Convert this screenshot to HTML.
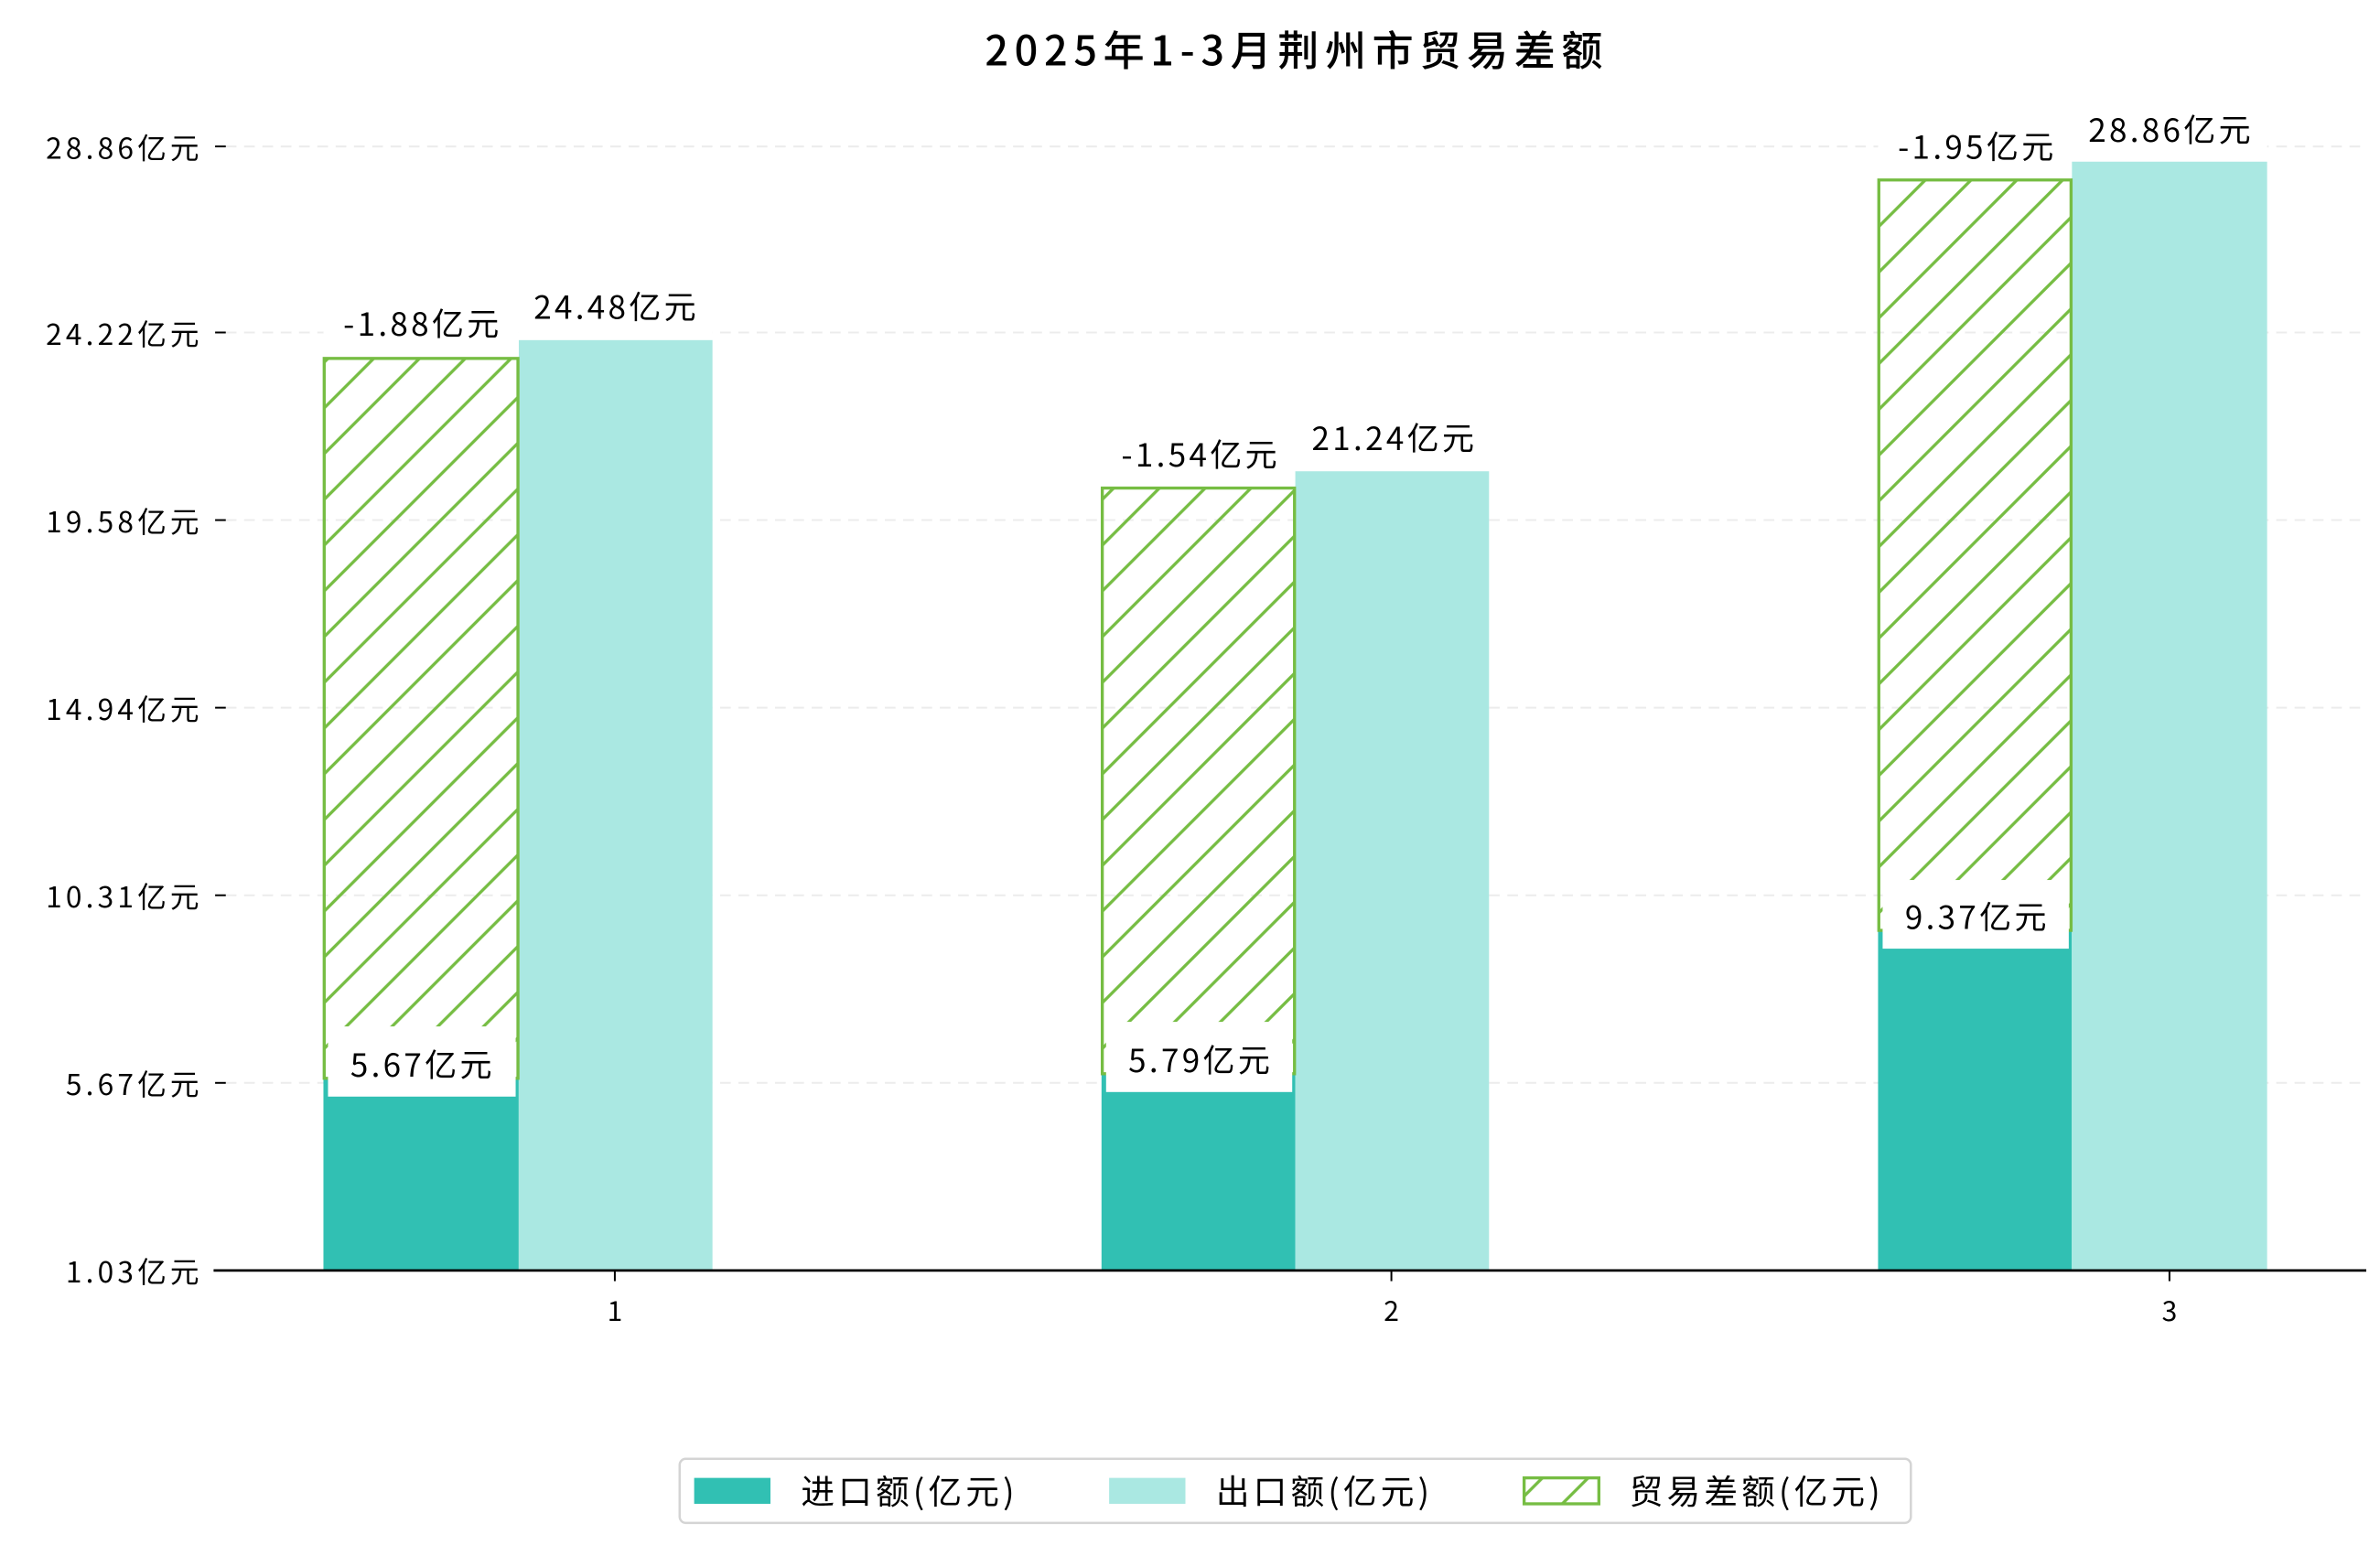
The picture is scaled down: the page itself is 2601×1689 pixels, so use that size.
<!DOCTYPE html>
<html><head><meta charset="utf-8"><style>
html,body{margin:0;padding:0;background:#fff;}
svg{display:block;}
svg text{font-family:"Noto Sans CJK SC","WenQuanYi Zen Hei",sans-serif;fill:#000;}
</style></head><body>
<svg width="2601" height="1689" viewBox="0 0 1560 1013" xmlns="http://www.w3.org/2000/svg">
<defs>
<pattern id="h" patternUnits="userSpaceOnUse" width="30" height="30">
<path d="M-3,33 L33,-3 M-3,3 L3,-3 M27,33 L33,27" stroke="#76bd43" stroke-width="2"/>
</pattern>
</defs>
<rect width="1560" height="1013" fill="#fff"/>
<text x="850" y="43" font-size="27" font-weight="500" letter-spacing="4" text-anchor="middle">2025年1-3月荆州市贸易差额</text>
<g stroke="#ececec" stroke-width="1.2" stroke-dasharray="7,5">
<line x1="148" y1="96" x2="1550" y2="96"/><line x1="148" y1="218" x2="1550" y2="218"/>
<line x1="148" y1="341" x2="1550" y2="341"/><line x1="148" y1="464" x2="1550" y2="464"/>
<line x1="148" y1="587" x2="1550" y2="587"/><line x1="148" y1="710" x2="1550" y2="710"/>
</g>
<g stroke="#000" stroke-width="1.2">
<line x1="141" y1="96" x2="148" y2="96"/><line x1="141" y1="218" x2="148" y2="218"/>
<line x1="141" y1="341" x2="148" y2="341"/><line x1="141" y1="464" x2="148" y2="464"/>
<line x1="141" y1="587" x2="148" y2="587"/><line x1="141" y1="710" x2="148" y2="710"/>
</g>
<g font-size="19" letter-spacing="2.5" text-anchor="end">
<text x="133" y="104">28.86亿元</text><text x="133" y="226">24.22亿元</text>
<text x="133" y="349">19.58亿元</text><text x="133" y="472">14.94亿元</text>
<text x="133" y="595">10.31亿元</text><text x="133" y="718">5.67亿元</text>
<text x="133" y="841">1.03亿元</text>
</g>
<g>
<rect x="212" y="707" width="128" height="126" fill="#31c0b3"/>
<rect x="340" y="223" width="127" height="610" fill="#aae8e2"/>
<rect x="212.5" y="235" width="127" height="472" fill="url(#h)" stroke="#76bd43" stroke-width="2"/>
<rect x="722" y="704" width="127" height="129" fill="#31c0b3"/>
<rect x="849" y="309" width="127" height="524" fill="#aae8e2"/>
<rect x="722.5" y="320" width="126" height="384" fill="url(#h)" stroke="#76bd43" stroke-width="2"/>
<rect x="1231" y="610" width="127" height="223" fill="#31c0b3"/>
<rect x="1358" y="106" width="128" height="727" fill="#aae8e2"/>
<rect x="1231.5" y="118" width="126" height="492" fill="url(#h)" stroke="#76bd43" stroke-width="2"/>
</g>
<g fill="#fff">
<rect x="215" y="673" width="123" height="46"/>
<rect x="725" y="670" width="122" height="46"/>
<rect x="1234" y="577" width="122" height="45"/>
<rect x="212" y="195" width="128" height="38"/>
<rect x="722" y="280" width="127" height="38"/>
<rect x="1231" y="78" width="127" height="38"/>
<rect x="340" y="184" width="127" height="37"/>
<rect x="849" y="270" width="127" height="37"/>
<rect x="1358" y="68" width="128" height="36"/>
</g>
<g font-size="21" letter-spacing="2" text-anchor="middle">
<text x="277" y="706">5.67亿元</text>
<text x="787" y="703">5.79亿元</text>
<text x="1296" y="609">9.37亿元</text>
<text x="277" y="220">-1.88亿元</text>
<text x="787" y="306">-1.54亿元</text>
<text x="1296" y="104">-1.95亿元</text>
<text x="404" y="209">24.48亿元</text>
<text x="914" y="295">21.24亿元</text>
<text x="1423" y="93">28.86亿元</text>
</g>
<line x1="140" y1="833" x2="1551" y2="833" stroke="#000" stroke-width="1.6"/>
<g stroke="#000" stroke-width="1.2">
<line x1="403" y1="833" x2="403" y2="840"/><line x1="912" y1="833" x2="912" y2="840"/><line x1="1422" y1="833" x2="1422" y2="840"/>
</g>
<g font-size="18" text-anchor="middle">
<text x="403" y="866">1</text><text x="912" y="866">2</text><text x="1422" y="866">3</text>
</g>
<rect x="445.5" y="956.5" width="807" height="42" rx="4" fill="#fff" stroke="#d4d4d4" stroke-width="1.5"/>
<rect x="455" y="969" width="50" height="17" fill="#31c0b3"/>
<rect x="727" y="969" width="50" height="17" fill="#aae8e2"/>
<rect x="999" y="969" width="49" height="17" fill="url(#h)" stroke="#76bd43" stroke-width="2"/>
<g font-size="22" letter-spacing="2.5">
<text x="525" y="986">进口额(亿元)</text>
<text x="797" y="986">出口额(亿元)</text>
<text x="1068" y="986">贸易差额(亿元)</text>
</g>
</svg>
</body></html>
